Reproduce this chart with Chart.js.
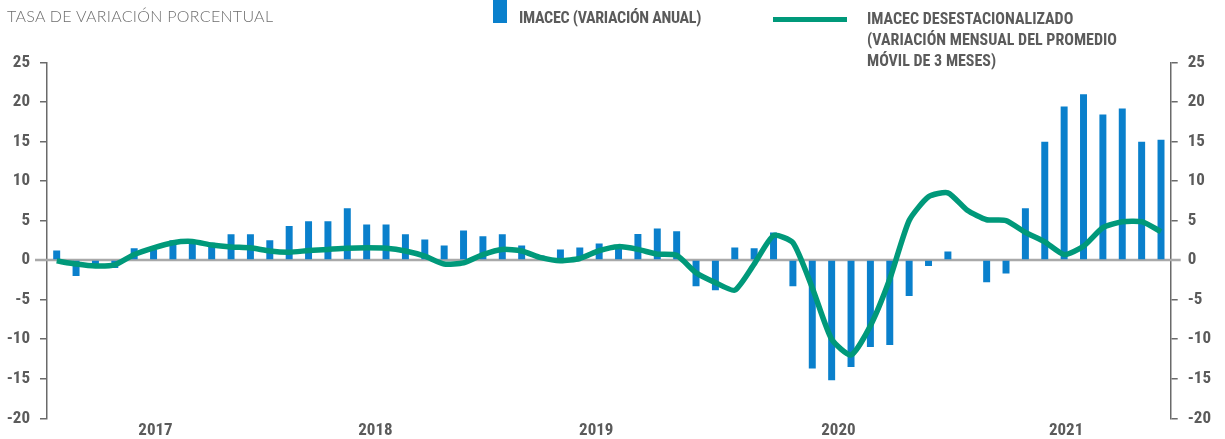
<!DOCTYPE html>
<html lang="es">
<head>
<meta charset="utf-8">
<title>IMACEC</title>
<script src="https://cdn.jsdelivr.net/npm/chart.js@4/dist/chart.umd.min.js"></script>
<style>
    html, body { margin: 0; padding: 0; background: #fff; }
    #wrap { position: relative; width: 1225px; height: 439px; overflow: hidden; }
    #chart { position: absolute; left: 0; top: 0; }
    .txt { position: absolute; white-space: nowrap; color: #5b5b5b; }
    .bold { font-family: "Liberation Sans Narrow", "Roboto Condensed", Roboto, sans-serif; font-weight: 700; font-size: 16px; }
    #titulo { left: 7px; top: 6px; font-family: Lato, "Open Sans", sans-serif; font-weight: 300; font-size: 16px; color: #6e6e6e; letter-spacing: 0.3px; }
    #leg1Box { position: absolute; left: 493px; top: 0; width: 14px; height: 23px; background: #0a80cc; }
    #leg1 { left: 519px; top: 8px; line-height: 19px; letter-spacing: -0.3px; }
    #leg2Line { position: absolute; left: 773px; top: 17px; width: 74px; height: 5px; background: #00997a; }
    #leg2 { left: 867px; top: 8px; line-height: 21px; }
</style>
</head>
<body>
<div id="wrap">
    <canvas id="chart" width="1225" height="439"></canvas>
    <div class="txt" id="titulo">TASA DE VARIACIÓN PORCENTUAL</div>
    <div id="leg1Box"></div>
    <div class="txt bold" id="leg1">IMACEC (VARIACIÓN ANUAL)</div>
    <div id="leg2Line"></div>
    <div class="txt bold" id="leg2">IMACEC DESESTACIONALIZADO<br>(VARIACIÓN MENSUAL DEL PROMEDIO<br>MÓVIL DE 3 MESES)</div>
</div>

<script>
// Meses, de enero 2017 a octubre 2021
const meses = [
    'Ene-17','Feb-17','Mar-17','Abr-17','May-17','Jun-17','Jul-17','Ago-17','Sep-17','Oct-17','Nov-17','Dic-17',
    'Ene-18','Feb-18','Mar-18','Abr-18','May-18','Jun-18','Jul-18','Ago-18','Sep-18','Oct-18','Nov-18','Dic-18',
    'Ene-19','Feb-19','Mar-19','Abr-19','May-19','Jun-19','Jul-19','Ago-19','Sep-19','Oct-19','Nov-19','Dic-19',
    'Ene-20','Feb-20','Mar-20','Abr-20','May-20','Jun-20','Jul-20','Ago-20','Sep-20','Oct-20','Nov-20','Dic-20',
    'Ene-21','Feb-21','Mar-21','Abr-21','May-21','Jun-21','Jul-21','Ago-21','Sep-21','Oct-21'
];

// IMACEC, variacion anual (%)
const imacecAnual = [
    1.2, -2.0, -0.9, -1.0, 1.5, 1.3, 2.5, 2.3, 2.2, 3.25, 3.25, 2.5,
    4.3, 4.9, 4.9, 6.55, 4.5, 4.5, 3.25, 2.6, 1.85, 3.75, 3.0, 3.25,
    1.85, 0.57, 1.35, 1.6, 2.1, 1.6, 3.3, 4.0, 3.65, -3.3, -3.8, 1.6,
    1.5, 3.5, -3.3, -13.7, -15.2, -13.5, -11.0, -10.75, -4.55, -0.75, 1.1, 0,
    -2.8, -1.7, 6.55, 14.95, 19.4, 20.95, 18.4, 19.15, 14.95, 15.2
];

// IMACEC desestacionalizado, variacion mensual del promedio movil de 3 meses (%)
const imacecDesest = [
    -0.1, -0.5, -0.75, -0.6, 0.7, 1.55, 2.2, 2.35, 1.9, 1.65, 1.55, 1.15,
    1.0, 1.2, 1.35, 1.5, 1.55, 1.5, 1.15, 0.5, -0.5, -0.35, 0.7, 1.35,
    1.15, 0.3, -0.1, 0.2, 1.2, 1.7, 1.35, 0.75, 0.6, -1.6, -2.85, -3.8,
    -0.5, 3.1, 2.2, -3.5, -10.0, -12.0, -8.3, -2.4, 5.0, 8.0, 8.5, 6.3,
    5.1, 5.0, 3.5, 2.3, 0.7, 1.75, 4.1, 4.85, 4.85, 3.6
];

// Etiquetas de anio y su ubicacion en el eje (en indice de mes)
const anios = ['2017', '2018', '2019', '2020', '2021'];
const anioEnMes = [5.1, 16.45, 27.85, 40.35, 52.1];

const AZUL = '#0a80cc';
const VERDE = '#00997a';
const GRIS_TXT = '#5b5b5b';
const GRIS_EJE = '#6a6a6a';
const fuenteEje = { family: '"Liberation Sans Narrow", "Roboto Condensed", Roboto, sans-serif', weight: 'bold', size: 17 };

// Linea horizontal del cero, un poco mas ancha que el area del grafico
const lineaCero = {
    id: 'lineaCero',
    beforeDatasetsDraw(chart) {
        const y = chart.scales.y.getPixelForValue(0);
        const ctx = chart.ctx;
        ctx.save();
        ctx.strokeStyle = '#a9a9a9';
        ctx.lineWidth = 2.5;
        ctx.beginPath();
        ctx.moveTo(chart.chartArea.left - 12, y);
        ctx.lineTo(chart.chartArea.right + 10, y);
        ctx.stroke();
        ctx.restore();
    }
};

function ejeY(posicion, ancho) {
    return {
        position: posicion,
        min: -20,
        max: 25,
        grid: { display: true, drawOnChartArea: false, drawTicks: true, tickLength: 7, color: GRIS_EJE, lineWidth: 1.5 },
        border: { display: true, color: GRIS_EJE, width: 1.5 },
        ticks: { stepSize: 5, padding: 10, color: GRIS_TXT, font: fuenteEje },
        afterFit: s => { s.width = ancho; }
    };
}

new Chart(document.getElementById('chart'), {
    type: 'bar',
    data: {
        labels: meses,
        datasets: [
            {
                type: 'line',
                label: 'IMACEC desestacionalizado',
                data: imacecDesest,
                borderColor: VERDE,
                borderWidth: 5.5,
                tension: 0.2,
                pointRadius: 0,
                fill: false,
                order: 0
            },
            {
                label: 'IMACEC (variación anual)',
                data: imacecAnual,
                backgroundColor: AZUL,
                categoryPercentage: 1,
                barPercentage: 0.36,
                order: 1
            }
        ]
    },
    options: {
        responsive: false,
        animation: false,
        devicePixelRatio: 1,
        layout: { padding: { top: 62.3, left: 0, right: 0, bottom: 0 } },
        plugins: { legend: { display: false }, tooltip: { enabled: false } },
        scales: {
            x: { type: 'category', display: false, offset: true },
            // eje solo para los rotulos de anio (hereda offset del grafico de barras, se anula)
            xAnios: {
                type: 'linear',
                position: 'bottom',
                bounds: 'data',
                offset: false,
                min: -0.5,
                max: 57.5,
                grid: { display: false, drawTicks: false, offset: false },
                border: { display: false },
                afterBuildTicks: s => { s.ticks = anioEnMes.map(v => ({ value: v })); },
                ticks: {
                    autoSkip: false,
                    maxRotation: 0,
                    padding: 2,
                    color: GRIS_TXT,
                    font: fuenteEje,
                    callback: (v, i) => anios[i]
                },
                afterFit: s => { s.height = 20.7; }
            },
            y: ejeY('left', 47),
            y2: ejeY('right', 54.3)
        }
    },
    plugins: [lineaCero]
});
</script>
</body>
</html>
